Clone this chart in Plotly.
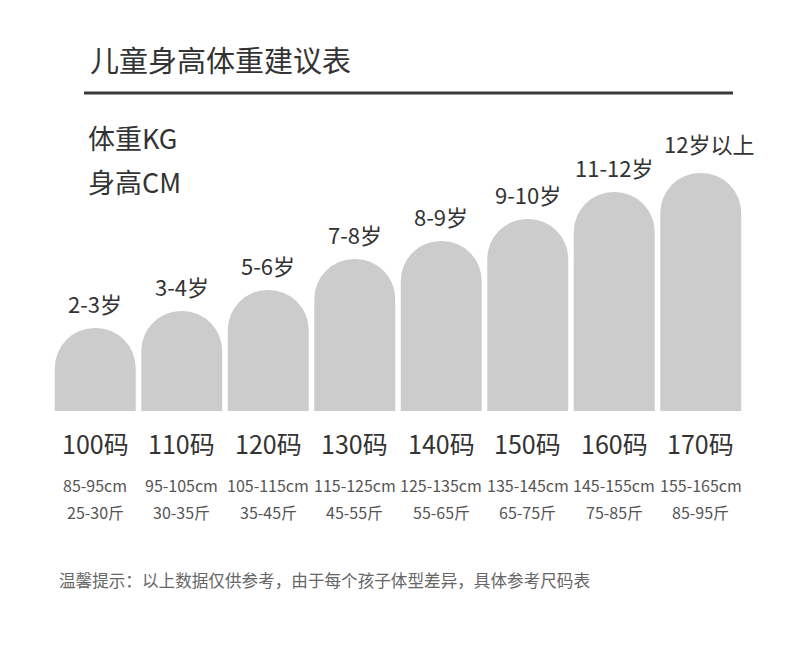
import plotly.graph_objects as go

# ---- data ----
ages = ["2-3岁", "3-4岁", "5-6岁", "7-8岁", "8-9岁", "9-10岁", "11-12岁", "12岁以上"]
sizes = ["100码", "110码", "120码", "130码", "140码", "150码", "160码", "170码"]
heights_cm = ["85-95cm", "95-105cm", "105-115cm", "115-125cm", "125-135cm", "135-145cm", "145-155cm", "155-165cm"]
weights_jin = ["25-30斤", "30-35斤", "35-45斤", "45-55斤", "55-65斤", "65-75斤", "75-85斤", "85-95斤"]
bar_values = [83, 100, 121, 152, 170, 192, 219, 238]

title_text = "儿童身高体重建议表"
legend_lines = ["体重KG", "身高CM"]
footer_text = "温馨提示：以上数据仅供参考，由于每个孩子体型差异，具体参考尺码表"

W, H = 790, 645
OFF = 8  # page body margin offset
ML, MR, MT = 52 - OFF, 46 + OFF, 100 - OFF
PW = W - ML - MR
PH = 311
MB = H - MT - PH
FONT = "Noto Sans CJK SC"
DARK = "#333333"


def px(xp):
    # reference-pixel x -> paper coordinate
    return (xp - OFF - ML) / PW


def py(yp):
    # reference-pixel y -> paper coordinate
    return (MT + PH - (yp - OFF)) / PH


xs = list(range(len(ages)))

fig = go.Figure()
fig.add_trace(go.Bar(
    x=xs, y=bar_values,
    marker=dict(color="#cccccc", cornerradius=40, line=dict(width=0)),
    hoverinfo="skip",
))

ann = []
# age labels above bars
for i, (a, v) in enumerate(zip(ages, bar_values)):
    last = i == len(ages) - 1
    ann.append(dict(x=i + (0.1 if last else 0), y=v, xref="x", yref="y", text=a,
                    showarrow=False, yshift=30 if last else 25, yanchor="middle",
                    font=dict(family=FONT, size=22, color=DARK)))
# size rows under bars
for i in xs:
    ann.append(dict(x=i, y=py(443), xref="x", yref="paper", text=sizes[i], showarrow=False,
                    yanchor="middle", font=dict(family=FONT, size=25, color=DARK)))
    ann.append(dict(x=i, y=py(485), xref="x", yref="paper", text=heights_cm[i], showarrow=False,
                    yanchor="middle", font=dict(family=FONT, size=16, color="#555555")))
    ann.append(dict(x=i, y=py(512), xref="x", yref="paper", text=weights_jin[i], showarrow=False,
                    yanchor="middle", font=dict(family=FONT, size=16, color="#555555")))

ann.append(dict(x=px(88), y=py(59), xref="paper", yref="paper", text=title_text, showarrow=False,
                xanchor="left", yanchor="middle", font=dict(family=FONT, size=29, color=DARK)))
ann.append(dict(x=px(86), y=py(137), xref="paper", yref="paper", text=legend_lines[0], showarrow=False,
                xanchor="left", yanchor="middle", font=dict(family=FONT, size=27, color=DARK)))
ann.append(dict(x=px(86), y=py(181), xref="paper", yref="paper", text=legend_lines[1], showarrow=False,
                xanchor="left", yanchor="middle", font=dict(family=FONT, size=27, color=DARK)))
ann.append(dict(x=px(57), y=py(580), xref="paper", yref="paper", text=footer_text, showarrow=False,
                xanchor="left", yanchor="middle", font=dict(family=FONT, size=16.6, color="#666666")))

fig.update_layout(
    width=W, height=H,
    margin=dict(l=ML, r=MR, t=MT, b=MB, pad=0),
    paper_bgcolor="white", plot_bgcolor="white",
    bargap=0.064,
    showlegend=False,
    xaxis=dict(range=[-0.5, 7.5], visible=False, fixedrange=True),
    yaxis=dict(range=[0, PH], visible=False, fixedrange=True),
    annotations=ann,
    shapes=[dict(type="line", xref="paper", yref="paper", x0=px(84), x1=px(733), y0=py(93), y1=py(93),
                 line=dict(color="#3a3a3a", width=3))],
)

fig.write_html("out.html", config={"displayModeBar": False})
